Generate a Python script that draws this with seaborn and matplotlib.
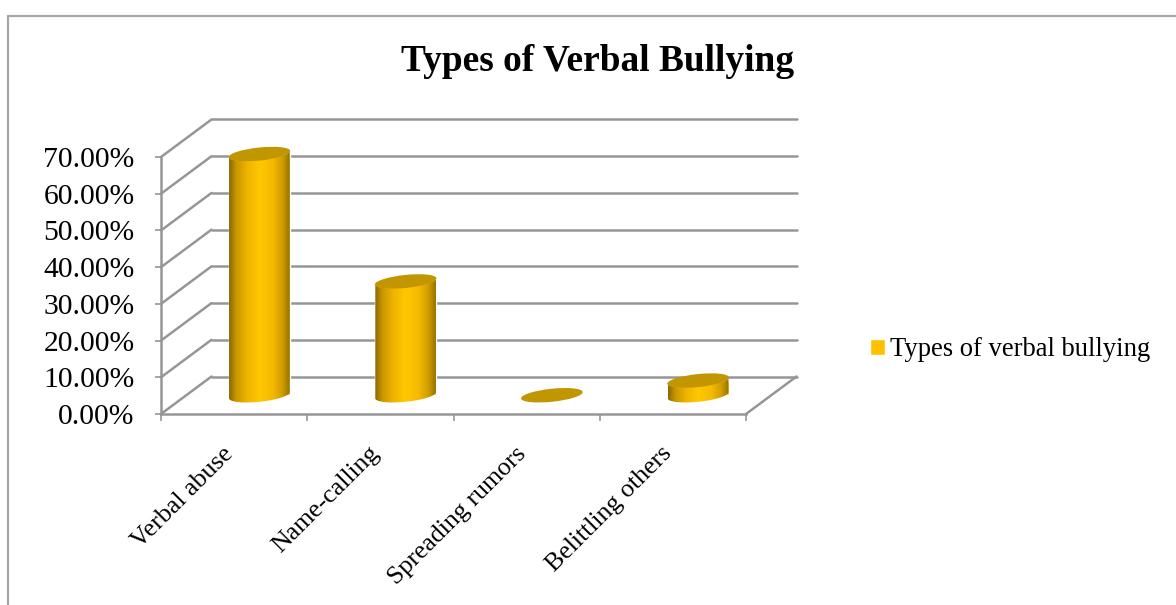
"""
Types of Verbal Bullying: Excel style 3D cylinder chart drawn over a seaborn barplot.
"""
import numpy as np
import pandas as pd
import matplotlib
matplotlib.use("Agg")
import matplotlib.pyplot as plt
import seaborn as sns
from matplotlib.colors import LinearSegmentedColormap
from matplotlib.lines import Line2D
from matplotlib.patches import Ellipse
from matplotlib.path import Path
from matplotlib.transforms import IdentityTransform, ScaledTranslation

categories = ["Verbal abuse", "Name-calling", "Spreading rumors", "Belittling others"]
values = [65.7, 31.0, 0.0, 4.0]
y_ticks = [0, 10, 20, 30, 40, 50, 60, 70]
series_name = "Types of verbal bullying"
chart_title = "Types of Verbal Bullying"

FIG_W, FIG_H = 1176, 605
DEPTH = np.array([50.5, 37.5])   # wall offset in pixels
GRID_COLOR = "#969696"
BAR_COLOR = "#FFC000"
TOP_COLOR = "#C29600"
SERIF = "Liberation Serif"

sns.set_theme(style="white")
plt.rcParams["font.family"] = [SERIF, "DejaVu Serif"]

fig = plt.figure(figsize=(FIG_W / 100, FIG_H / 100), dpi=100)
ax = fig.add_axes([161 / FIG_W, (FIG_H - 414) / FIG_H, 585 / FIG_W, 257 / FIG_H])
ax.patch.set_alpha(0)

df = pd.DataFrame({"category": categories, "value": values})
sns.barplot(data=df, x="category", y="value", color=BAR_COLOR, width=0.417,
            saturation=1, label=series_name, ax=ax, zorder=3)
ax.set_xlim(-0.5, 3.5)
ax.set_ylim(0, 70)
ax.set_xlabel("")
ax.set_ylabel("")

# Frame of the original picture
for xs, ys in [((8, FIG_W), (FIG_H - 16, FIG_H - 16)), ((8, 8), (0, FIG_H - 16))]:
    fig.add_artist(Line2D(xs, ys, transform=IdentityTransform(), color="#A6A6A6", lw=1.6))


def px(x, y):
    return ax.transData.transform((x, y))


def wall_line(a, b):
    ax.plot([a[0], b[0]], [a[1], b[1]], transform=IdentityTransform(), color=GRID_COLOR,
            lw=1.8, clip_on=False, zorder=1, solid_capstyle="round", scalex=False, scaley=False)


# Back wall and side wall lines
for v in y_ticks:
    front = px(-0.5, v)
    back = front + DEPTH
    wall_line(front, back)
    wall_line(back, px(3.5, v) + DEPTH)
wall_line(px(3.5, 0), px(3.5, 0) + DEPTH)

# Axes in the front plane
sns.despine(ax=ax)
for side in ["left", "bottom"]:
    ax.spines[side].set_color(GRID_COLOR)
    ax.spines[side].set_linewidth(1.8)
ax.set_yticks(y_ticks)
ax.set_yticklabels([f"{v:.2f}%" for v in y_ticks])
ax.tick_params(axis="y", which="major", length=4.5, width=1.2, color=GRID_COLOR,
               pad=14.5, labelsize=21.3, labelcolor="black", left=True)
ax.set_xticks(np.arange(len(categories)))
ax.set_xticklabels(categories, rotation=45, ha="right", va="top", rotation_mode="anchor")
ax.tick_params(axis="x", which="major", length=0, pad=20.5, labelsize=18.6, labelcolor="black")
ax.set_xticks(np.arange(len(categories) + 1) - 0.5, minor=True)
ax.tick_params(axis="x", which="minor", length=5, width=1.2, color=GRID_COLOR, bottom=True)
label_shift = ScaledTranslation(-12 / 100, 0, fig.dpi_scale_trans)
for label in ax.get_xticklabels():
    label.set_transform(label.get_transform() + label_shift)

# Cylinders: seaborn bars pushed half way into the depth, with shading and caps on top
shift_pts = DEPTH / 2 / 100
bar_trans = ax.transData + ScaledTranslation(shift_pts[0], shift_pts[1], fig.dpi_scale_trans)
shade = LinearSegmentedColormap.from_list(
    "cyl", [(0, "#8A6800"), (0.12, "#C89700"), (0.3, "#F0B400"), (0.5, "#FFC800"),
            (0.72, "#F5B900"), (0.88, "#CF9D00"), (1, "#967200")])
ANGLE = np.deg2rad(6)
T = np.linspace(0, 2 * np.pi, 200)

for bar in ax.patches:
    bar.set_transform(bar_trans)
    bar.set_clip_on(False)
    x0, x1 = bar.get_x(), bar.get_x() + bar.get_width()
    h = bar.get_height()
    left, base = bar_trans.transform((x0, 0))
    right, top = bar_trans.transform((x1, h))
    cx = (left + right) / 2
    a, b = (right - left) / 2, 6.5

    ex = a * np.cos(T) * np.cos(ANGLE) - b * np.sin(T) * np.sin(ANGLE)
    ey = a * np.cos(T) * np.sin(ANGLE) + b * np.sin(T) * np.cos(ANGLE)
    lower = np.sin(T) < 0
    order = np.argsort(ex[lower])
    low_x, low_y = ex[lower][order], ey[lower][order]
    outline = np.column_stack([
        np.r_[cx + low_x, cx + low_x[::-1]],
        np.r_[base + low_y, top + low_y[::-1]],
    ])
    if h > 0:
        im = ax.imshow(np.linspace(0, 1, 256)[None, :], extent=(x0, x1, -10, h + 5), cmap=shade,
                       aspect="auto", zorder=4, interpolation="bilinear")
        im.set_transform(bar_trans)
        im.set_clip_box(fig.bbox)
        im.set_clip_path(Path(np.vstack([outline, outline[:1]]), closed=True), IdentityTransform())
    ax.add_artist(Ellipse((cx, top), 2 * a + 1, 2 * b, angle=np.rad2deg(ANGLE), facecolor=TOP_COLOR,
                          edgecolor="none", transform=IdentityTransform(), clip_on=False, zorder=5))

ax.set_xlim(-0.5, 3.5)
ax.set_ylim(0, 70)

ax.set_title(chart_title, fontsize=26.9, fontweight="bold", color="black",
             x=(598 - 161) / 585, y=(414 - 79) / 257, va="bottom", pad=0)

ax.legend(loc="center left", bbox_to_anchor=(870 / FIG_W, (FIG_H - 350) / FIG_H),
          bbox_transform=fig.transFigure, frameon=False, fontsize=19.2, labelcolor="black",
          handlelength=0.55, handleheight=0.55, handletextpad=0.2, borderpad=0, borderaxespad=0)

fig.savefig("out.png", dpi=100)
